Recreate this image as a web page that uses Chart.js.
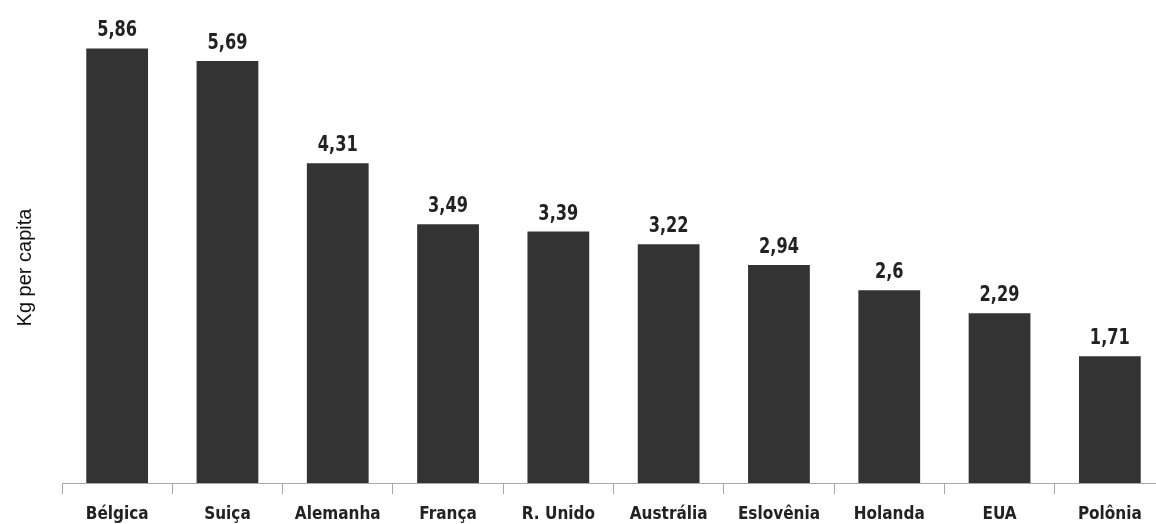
<!DOCTYPE html>
<html>
<head>
<meta charset="utf-8">
<script src="https://cdn.jsdelivr.net/npm/chart.js@4/dist/chart.umd.min.js"></script>
<style>
  html, body { margin: 0; padding: 0; background: #fff; overflow: hidden; }
  #wrap { width: 1156px; height: 524px; overflow: hidden; position: relative; }
  #box { width: 1168px; height: 524px; position: absolute; left: 0; top: 0; }
</style>
</head>
<body>
<div id="wrap"><div id="box"><canvas id="c"></canvas></div></div>
<script>
const countries = ['Bélgica', 'Suiça', 'Alemanha', 'França', 'R. Unido', 'Austrália', 'Eslovênia', 'Holanda', 'EUA', 'Polônia'];
const kgPerCapita = [5.86, 5.69, 4.31, 3.49, 3.39, 3.22, 2.94, 2.6, 2.29, 1.71];
const yTitle = 'Kg per capita';

const narrow = "'Liberation Sans Narrow', 'Arial Narrow', 'DejaVu Sans Condensed', sans-serif";

// Writes each bar's value (decimal comma) just above its top, in a tall condensed face
const valueLabels = {
  id: 'valueLabels',
  afterDatasetsDraw(chart) {
    const ctx = chart.ctx;
    const meta = chart.getDatasetMeta(0);
    const stretch = 1.15;
    ctx.save();
    ctx.font = 'bold 18px ' + narrow;
    ctx.fillStyle = '#222';
    ctx.textAlign = 'center';
    ctx.textBaseline = 'alphabetic';
    meta.data.forEach((bar, i) => {
      const txt = String(kgPerCapita[i]).replace('.', ',');
      ctx.save();
      ctx.translate(bar.x, bar.y - 12);
      ctx.scale(1, stretch);
      ctx.fillText(txt, 0, 0);
      ctx.restore();
    });
    ctx.restore();
  }
};

// Rotated value-axis caption, placed in the left margin
const axisCaption = {
  id: 'axisCaption',
  afterDraw(chart) {
    const ctx = chart.ctx;
    const area = chart.chartArea;
    ctx.save();
    ctx.translate(25, (area.top + area.bottom) / 2 + 7);
    ctx.rotate(-Math.PI / 2);
    ctx.font = "20px 'Liberation Sans', Arial, sans-serif";
    ctx.fillStyle = '#111';
    ctx.textAlign = 'center';
    ctx.textBaseline = 'middle';
    ctx.fillText(yTitle, 0, 0);
    ctx.restore();
  }
};

new Chart(document.getElementById('c'), {
  type: 'bar',
  data: {
    labels: countries,
    datasets: [{
      data: kgPerCapita,
      backgroundColor: '#333333',
      borderWidth: 0,
      barPercentage: 0.56,
      categoryPercentage: 1.0
    }]
  },
  options: {
    responsive: true,
    maintainAspectRatio: false,
    animation: false,
    layout: { padding: { top: 38, right: 3, left: 62, bottom: 0 } },
    plugins: { legend: { display: false }, tooltip: { enabled: false } },
    scales: {
      x: {
        grid: { display: true, drawOnChartArea: false, drawTicks: true, tickLength: 11, color: '#a8a8a8', offset: true },
        border: { display: true, color: '#a8a8a8', width: 1 },
        ticks: { color: '#222', font: { family: narrow, size: 17, weight: 'bold' }, padding: 10, maxRotation: 0, autoSkip: false },
        afterFit(scale) { scale.height = 41; }
      },
      y: {
        display: false,
        min: 0,
        max: 6
      }
    }
  },
  plugins: [valueLabels, axisCaption]
});
</script>
</body>
</html>
